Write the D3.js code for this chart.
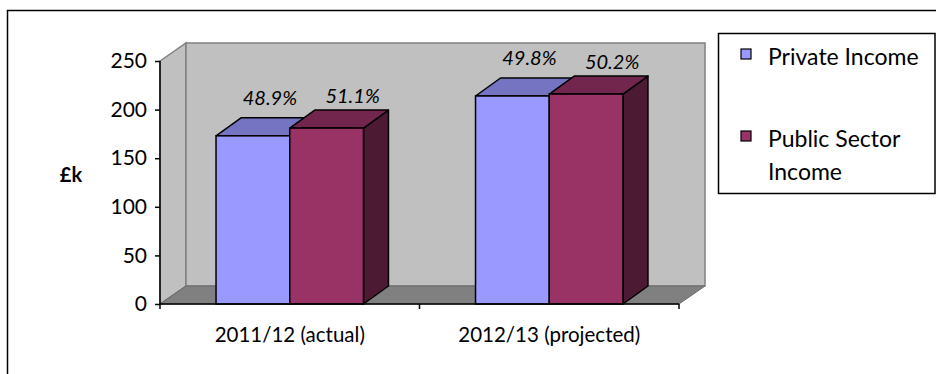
<!DOCTYPE html>
<html><head><meta charset="utf-8">
<script src="https://cdn.jsdelivr.net/npm/d3@7/dist/d3.min.js"></script>
<style>body{margin:0;background:#fff}svg{display:block}text{font-family:Lato,"Open Sans",sans-serif}</style>
</head><body><svg id="c" width="936" height="374"></svg>
<script>
const categories = ["2011/12 (actual)", "2012/13 (projected)"];
const seriesNames = ["Private Income", "Public Sector Income"];
const privateIncome = [173, 214];
const publicIncome = [181, 216];
const shareLabels = [["48.9%", "49.8%"], ["51.1%", "50.2%"]];
const yTicks = [0, 50, 100, 150, 200, 250];
const yTitle = "£k";

const front = ["#9999FF", "#993366"];
const topC = ["#7474C2", "#73264D"];
const sideC = ["#4D4D80", "#4D1A33"];

const svg = d3.select("#c");
svg.append("rect").attr("x", 7.5).attr("y", 10.5).attr("width", 1000).attr("height", 500)
  .attr("fill", "#fff").attr("stroke", "#000").attr("stroke-width", 1.5);

const x0 = d3.scaleBand().domain(categories).range([160, 679]).paddingInner(0).paddingOuter(0);
const y = d3.scaleLinear().domain([0, 250]).range([304, 61]);
const DX = 26, DY = -18;
const bdx = 25, bdy = -18;

const g = svg.append("g");
g.append("polygon").attr("points", [[160, y(250)], [160 + DX, y(250) + DY], [160 + DX, y(0) + DY], [160, y(0)]].join(" "))
  .attr("fill", "#C0C0C0").attr("stroke", "#808080").attr("stroke-width", 1.5);
g.append("rect").attr("x", 160 + DX).attr("y", y(250) + DY).attr("width", 679 - 160).attr("height", y(0) - y(250))
  .attr("fill", "#C0C0C0").attr("stroke", "#808080").attr("stroke-width", 1.5);
g.append("polygon").attr("points", [[160, y(0)], [160 + DX, y(0) + DY], [679 + DX, y(0) + DY], [679, y(0)]].join(" "))
  .attr("fill", "#808080").attr("stroke", "#6a6a6a").attr("stroke-width", 1);

const x1 = d3.scaleBand().domain([0, 1]).range([0, x0.bandwidth()]).paddingOuter(0.76).paddingInner(0);
const seriesVals = [privateIncome, publicIncome];

categories.forEach((cat, ci) => {
  [0, 1].forEach(si => {
    const v = seriesVals[si][ci];
    const xl = x0(cat) + x1(si), w = x1.bandwidth();
    const yt = y(v), yb = y(0);
    const bg = g.append("g");
    bg.append("polygon").attr("points", [[xl + w, yt], [xl + w + bdx, yt + bdy], [xl + w + bdx, yb + bdy], [xl + w, yb]].join(" "))
      .attr("fill", sideC[si]).attr("stroke", "#000").attr("stroke-width", 1.5).attr("stroke-linejoin", "round");
    bg.append("polygon").attr("points", [[xl, yt], [xl + bdx, yt + bdy], [xl + w + bdx, yt + bdy], [xl + w, yt]].join(" "))
      .attr("fill", topC[si]).attr("stroke", "#000").attr("stroke-width", 1.5).attr("stroke-linejoin", "round");
    bg.append("rect").attr("x", xl).attr("y", yt).attr("width", w).attr("height", yb - yt)
      .attr("fill", front[si]).attr("stroke", "#000").attr("stroke-width", 1.5);
  });
});

const lblOff = [[17, 31], [26, 25]];
categories.forEach((cat, ci) => {
  [0, 1].forEach(si => {
    const v = seriesVals[si][ci];
    const cx = x0(cat) + x1(si) + x1.bandwidth() / 2 + lblOff[si][0];
    g.append("text").attr("x", cx).attr("y", y(v) - lblOff[si][1])
      .attr("text-anchor", "middle").attr("font-style", "italic").attr("font-size", 20).attr("fill", "#000")
      .text(shareLabels[si][ci]);
  });
});

const ya = d3.axisLeft(y).tickValues(yTicks).tickSize(5).tickPadding(8).tickFormat(d3.format("d"));
const yg = svg.append("g").attr("transform", "translate(160,0)").call(ya);
yg.select(".domain").attr("d", `M-0,${y(250)}V${y(0)}`).attr("stroke", "#000").attr("stroke-width", 1.5);
yg.selectAll(".tick line").attr("stroke", "#000").attr("stroke-width", 1.5);
yg.selectAll(".tick text").attr("font-size", 21).attr("fill", "#000").style("font-family", "Lato");

const xa = d3.axisBottom(x0).tickSize(0).tickPadding(23);
const xg = svg.append("g").attr("transform", `translate(0,${y(0)})`).call(xa);
xg.select(".domain").attr("d", `M160,0H679`).attr("stroke", "#000").attr("stroke-width", 1.5);
xg.selectAll(".tick text").attr("font-size", 20.5).attr("fill", "#000").style("font-family", "Lato");
const bounds = [160, 160 + x0.bandwidth(), 679];
xg.selectAll(".bt").data(bounds).enter().append("line")
  .attr("x1", d => d).attr("x2", d => d).attr("y1", 0).attr("y2", 5).attr("stroke", "#000").attr("stroke-width", 1.5);

svg.append("text").attr("x", 71).attr("y", 182).attr("text-anchor", "middle").attr("font-weight", "bold")
  .attr("font-size", 20).text(yTitle);

const lg = svg.append("g");
lg.append("rect").attr("x", 718.5).attr("y", 33.5).attr("width", 216.5).attr("height", 160)
  .attr("fill", "#fff").attr("stroke", "#000").attr("stroke-width", 1.5);
const legendRows = [[seriesNames[0]], ["Public Sector", "Income"]];
const rowY = [57, 139];
legendRows.forEach((lines, i) => {
  lg.append("rect").attr("x", 741).attr("y", rowY[i] - 8).attr("width", 10).attr("height", 10)
    .attr("fill", front[i]).attr("stroke", "#000").attr("stroke-width", 1.2);
  const t = lg.append("text").attr("x", 768).attr("y", rowY[i] + 8).attr("font-size", 23).attr("fill", "#000");
  lines.forEach((l, k) => t.append("tspan").attr("x", 768).attr("dy", k ? 33 : 0).text(l));
});
</script></body></html>
